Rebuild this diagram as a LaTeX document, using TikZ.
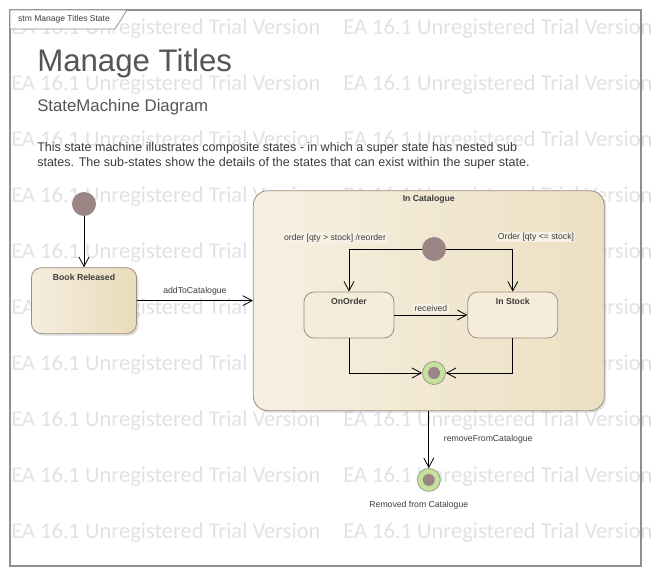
\documentclass[tikz,border=0pt]{standalone}
\usepackage{fontspec}
\setmainfont{Liberation Sans}
\newfontfamily\wmfont{Carlito}
\usepackage{tikz}
\usetikzlibrary{arrows.meta,positioning,shadows}
\definecolor{framecol}{RGB}{150,140,140}
\definecolor{boxline}{RGB}{160,140,135}
\definecolor{pseudo}{RGB}{155,132,132}
\definecolor{finring}{RGB}{198,224,158}
\definecolor{finline}{RGB}{140,148,120}
\definecolor{txt}{RGB}{60,60,60}
\definecolor{titlecol}{RGB}{85,85,85}
\definecolor{wmgray}{RGB}{226,226,226}
\definecolor{stleft}{RGB}{245,237,222}
\definecolor{stright}{RGB}{233,220,186}
\definecolor{catleft}{RGB}{247,240,226}
\definecolor{catright}{RGB}{236,224,194}
\definecolor{subfill}{RGB}{245,236,218}
\definecolor{lblfill}{RGB}{248,242,230}

\begin{document}
\begin{tikzpicture}[x=0.75pt, y=-0.75pt,
  stbox/.style={draw=boxline, line width=0.6pt, rounded corners=7.5pt, minimum width=78.75pt, minimum height=49.5pt, inner sep=0pt, left color=stleft, right color=stright, drop shadow={shadow xshift=1.5pt, shadow yshift=-1.5pt, opacity=0.25}},
  superbox/.style={stbox, rounded corners=11pt, minimum width=263.25pt, minimum height=165pt, left color=catleft, right color=catright},
  subbox/.style={draw=boxline, line width=0.6pt, rounded corners=7.5pt, minimum width=67.5pt, minimum height=34.5pt, inner sep=0pt, fill=subfill},
  stname/.style={anchor=north, font=\bfseries\fontsize{6.5}{8}\selectfont, text=txt, inner sep=0pt, yshift=-5pt},
  startdot/.style={circle, fill=pseudo, minimum size=18pt, inner sep=0pt},
  enddot/.style={circle, draw=finline, line width=0.5pt, fill=finring, minimum size=17.25pt, inner sep=0pt, path picture={\fill[pseudo] (path picture bounding box.center) circle (4.5pt);}},
  trans/.style={-{Straight Barb[length=7pt,width=7.5pt]}, line width=0.6pt},
  tlabel/.style={font=\fontsize{6.5}{8}\selectfont, text=txt, inner sep=1pt},
  wmark/.style={font=\wmfont\fontsize{16.9}{20}\selectfont, text=wmgray, anchor=west, inner sep=0pt}
]
\useasboundingbox (0,0) rectangle (651,573);
\fill[white] (0,0) rectangle (651,573);
\begin{scope}
\clip (0,0) rectangle (651,573);
\foreach \r in {0,...,9}
  \foreach \c in {0,1}
    \node[wmark] (wm\r\c) at (11+332*\c, 29+56*\r) {EA 16.1 Unregistered Trial Version};
\end{scope}
\draw[framecol, line width=0.8pt] (10,10) rectangle (641,566);
\draw[framecol, line width=0.6pt, fill=white] (10,10) -- (127,10) -- (115,29) -- (10,29) -- cycle;
\node[font=\fontsize{6.4}{8}\selectfont, text=txt, inner sep=0pt] (tabtext) at (64,19) {stm Manage Titles State};

\node[anchor=base west, font=\fontsize{23.4}{28}\selectfont, text=titlecol, inner sep=0pt] (title) at (37,72) {Manage Titles};
\node[anchor=base west, font=\fontsize{12.6}{15}\selectfont, text=titlecol, inner sep=0pt] (subtitle) at (37,112) {StateMachine Diagram};
\node[anchor=base west, align=left, font=\fontsize{9.4}{11.25}\selectfont, text=txt, inner sep=0pt] (desc) at (37,167) {This state machine illustrates composite states - in which a super state has nested sub\\states. The sub-states show the details of the states that can exist within the super state.};

\node[startdot] (ini1) at (84,204) {};
\node[stbox, below=38.25pt of ini1, label={[stname]north:Book Released}] (br) {};
\node[superbox, right=87pt of br, label={[stname, yshift=1.5pt]north:In Catalogue}] (cat) {};
\node[startdot] (ini2) at (434,249) {};
\node[subbox, label={[stname]north:OnOrder}] (onorder) at (349,315) {};
\node[subbox, right=54.75pt of onorder, label={[stname]north:In Stock}] (instock) {};
\node[enddot] (fin1) at (434,373) {};
\node[enddot, below=42.75pt of cat] (fin2) {};
\node[tlabel, below=6pt of fin2, xshift=-7.5pt] (rmlab) {Removed from Catalogue};
\node[tlabel, fill=lblfill] (ordlab) at (335,238) {order [qty > stock] /reorder};
\node[tlabel, fill=lblfill] (stklab) at (536,237) {Order [qty <= stock]};

\draw[trans] (ini1) -- (br);
\draw[trans] (br) -- node[tlabel, above=3pt] (addlab) {addToCatalogue} (cat);
\draw[trans] (ini2) -| (onorder);
\draw[trans] (ini2) -| (instock);
\draw[trans] (onorder) -- node[tlabel, fill=lblfill, above=1pt] (reclab) {received} (instock);
\draw[trans] (onorder) |- (fin1);
\draw[trans] (instock) |- (fin1);
\draw[trans] (cat) -- node[tlabel, right=10pt] (remlab) {removeFromCatalogue} (fin2);
\end{tikzpicture}
\end{document}
